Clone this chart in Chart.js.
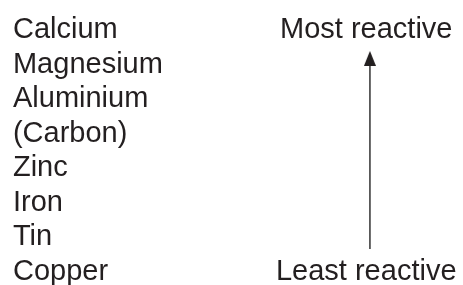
<!DOCTYPE html>
<html>
<head>
<meta charset="utf-8">
<script src="https://cdn.jsdelivr.net/npm/chart.js@4/dist/chart.umd.min.js"></script>
<style>
  html, body { margin: 0; padding: 0; background: #fff; }
  #wrap { width: 463px; height: 285px; position: relative; }
</style>
</head>
<body>
<div id="wrap"><canvas id="seriesChart"></canvas></div>
<script>
// Reactivity series, top row = most reactive
const elements = ['Calcium', 'Magnesium', 'Aluminium', '(Carbon)', 'Zinc', 'Iron', 'Tin', 'Copper'];
const rowIndex = [0, 1, 2, 3, 4, 5, 6, 7];
const endLabels = ['Most reactive', 'Least reactive'];
const endRows = [0, 7];
// arrow runs from near the bottom row up to near the top row (row units)
const arrowTail = 6.1;
const arrowHead = 0.59;

const inkColor = '#231f20';
const fontFamily = '"Liberation Sans", Arial, sans-serif';

// narrow arrow head used as point style
function makeArrowHead() {
  const c = document.createElement('canvas');
  c.width = 12;
  c.height = 15;
  const g = c.getContext('2d');
  g.fillStyle = inkColor;
  g.beginPath();
  g.moveTo(6, 0);
  g.lineTo(12, 15);
  g.lineTo(0, 15);
  g.closePath();
  g.fill();
  return c;
}

// draws the element names and the two end labels at scale positions
const labelPlugin = {
  id: 'seriesLabels',
  afterDatasetsDraw(chart) {
    const ctx = chart.ctx;
    const xs = chart.scales.x;
    const ys = chart.scales.y;
    ctx.save();
    ctx.fillStyle = inkColor;
    ctx.font = '29px ' + fontFamily;
    ctx.textBaseline = 'alphabetic';
    ctx.textAlign = 'left';
    elements.forEach((name, i) => {
      ctx.fillText(name, xs.getPixelForValue(2.8), ys.getPixelForValue(rowIndex[i]));
    });
    ctx.textAlign = 'center';
    endLabels.forEach((text, i) => {
      ctx.fillText(text, xs.getPixelForValue(79.1), ys.getPixelForValue(endRows[i]));
    });
    ctx.restore();
  }
};

new Chart(document.getElementById('seriesChart'), {
  type: 'line',
  data: {
    datasets: [{
      data: [{ x: 79.9, y: arrowTail }, { x: 79.9, y: arrowHead }],
      borderColor: '#333',
      borderWidth: 1.5,
      pointStyle: [false, makeArrowHead()],
      pointRadius: [0, 6],
      fill: false
    }]
  },
  options: {
    responsive: true,
    maintainAspectRatio: false,
    animation: false,
    layout: { padding: 0, autoPadding: false },
    plugins: { legend: { display: false }, tooltip: { enabled: false } },
    scales: {
      x: { type: 'linear', min: 0, max: 100, display: false },
      y: { type: 'linear', reverse: true, min: -1.1, max: 7.145, display: false }
    }
  },
  plugins: [labelPlugin]
});
</script>
</body>
</html>
